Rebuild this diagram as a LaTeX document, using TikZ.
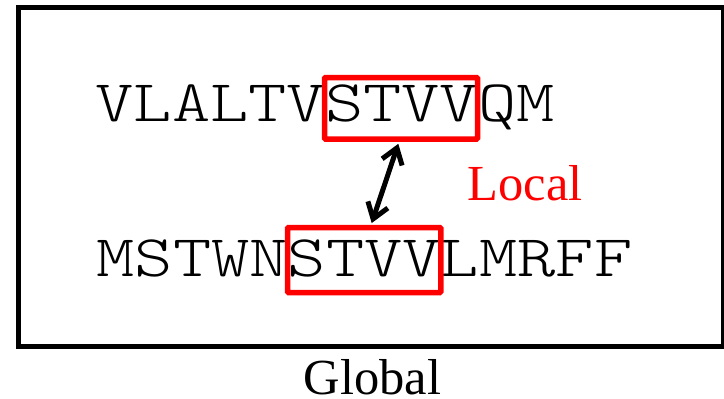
\documentclass[tikz,border=0pt]{standalone}
\usepackage{fontspec}
\newfontfamily\serifTNR{Liberation Serif}
\usetikzlibrary{arrows.meta}
\begin{document}
\begin{tikzpicture}[x=1pt,y=-1pt,
  seq/.style={anchor=base west, inner sep=0pt, font=\fontsize{59}{59}\fontseries{l}\ttfamily},
  hl/.style={draw=red, line width=5.5pt, rounded corners=1pt, inner sep=0pt},
  lbl/.style={anchor=base west, inner sep=0pt, font=\fontsize{50.5}{50.5}\selectfont\serifTNR},
  dbl/.style={{Straight Barb[length=15pt,width=21pt]}-{Straight Barb[length=15pt,width=21pt]}, line width=5pt}]
\useasboundingbox (0,0) rectangle (724,399);
\draw[line width=5.5pt] (18.5,7.5) rectangle (724,346.3);
\node[seq] (row1) at (95.5,121.5) {\scalebox{1.235}[1]{VLALTVSTVVQM}};
\node[seq] (row2) at (96.5,276.5) {\scalebox{1.235}[1]{MSTWNSTVVLMRFF}};
\node[hl, minimum width=153pt, minimum height=61.5pt] (box1) at (401,108.3) {};
\node[hl, minimum width=153.3pt, minimum height=65pt] (box2) at (364.2,260) {};
\draw[dbl] ([xshift=-2.7pt,yshift=-2pt]box1.south) -- ([xshift=7.5pt,yshift=1.7pt]box2.north);
\node[lbl, text=red] (local) at (467.5,200) {Local};
\node[lbl] (global) at (303.5,394) {Global};
\end{tikzpicture}
\end{document}
